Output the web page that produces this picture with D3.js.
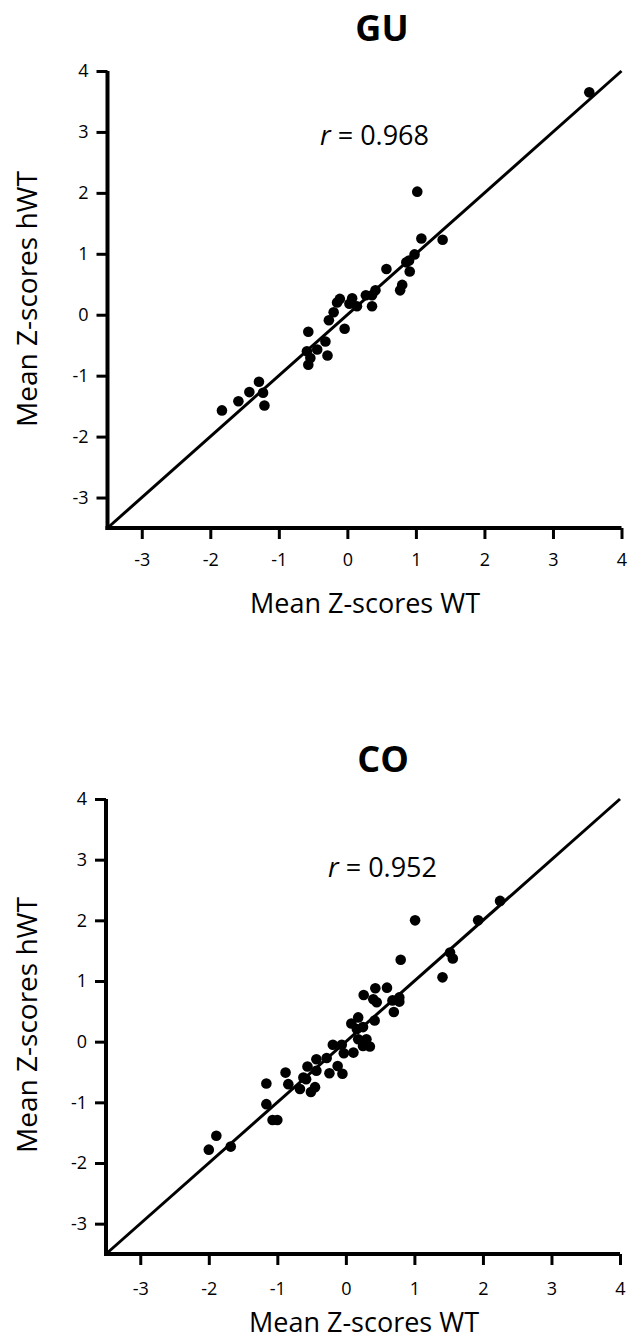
<!DOCTYPE html>
<html>
<head>
<meta charset="utf-8">
<script src="https://cdn.jsdelivr.net/npm/d3@7"></script>
<style>
  body { margin: 0; background: #fff; }
  text { font-family: "Open Sans", sans-serif; fill: #000; }
</style>
</head>
<body>
<div id="chart"></div>
<script>
// GU panel: mean z-scores, WT (x) vs hWT (y)
var guWT  = [3.53, 1.02, 1.08, 1.39, 0.98, 0.90, 0.86, 0.91, 0.57, 0.80, 0.77, 0.41, 0.36, 0.27, 0.36, 0.14, 0.07, 0.03,
             -0.11, -0.15, -0.20, -0.27, -0.04, -0.57, -0.32, -0.44, -0.59, -0.29, -0.54, -0.57, -1.29, -1.43, -1.23, -1.59, -1.21, -1.83];
var guHWT = [3.65, 2.02, 1.25, 1.23, 0.99, 0.89, 0.86, 0.71, 0.75, 0.49, 0.40, 0.40, 0.32, 0.32, 0.14, 0.14, 0.27, 0.18,
             0.26, 0.20, 0.04, -0.09, -0.23, -0.28, -0.44, -0.57, -0.60, -0.67, -0.71, -0.82, -1.10, -1.27, -1.28, -1.42, -1.49, -1.57];

// CO panel
var coWT  = [1.01, 2.25, 1.93, 1.52, 1.56, 1.41, 0.80, 0.60, 0.43, 0.26, 0.40, 0.45, 0.78, 0.68, 0.78, 0.70, 0.42, 0.18,
             0.08, 0.25, 0.16, 0.18, 0.30, 0.35, 0.25, -0.19, -0.06, -0.03, 0.11, -0.28, -0.43, -0.56, -0.43, -0.12,
             -0.05, -0.24, -0.88, -0.62, -0.58, -0.84, -0.67, -0.45, -0.51, -1.16, -1.16, -1.07, -1.00, -1.89, -2.00, -1.68];
var coHWT = [2.00, 2.32, 2.00, 1.47, 1.37, 1.06, 1.35, 0.89, 0.88, 0.77, 0.70, 0.65, 0.73, 0.68, 0.66, 0.49, 0.35, 0.40,
             0.30, 0.24, 0.21, 0.04, 0.04, -0.08, -0.07, -0.05, -0.05, -0.19, -0.18, -0.27, -0.29, -0.41, -0.48, -0.40,
             -0.53, -0.52, -0.51, -0.59, -0.62, -0.70, -0.78, -0.75, -0.83, -0.69, -1.03, -1.29, -1.29, -1.55, -1.78, -1.73];

var tickValues = [-3, -2, -1, 0, 1, 2, 3, 4];
var axisDomain = [-3.5, 4];

var w = 629;
var h = 1341;

var svg = d3.select("#chart")
    .append("svg")
    .attr("width", w)
    .attr("height", h);

function drawPanel(opts) {
    var x = d3.scaleLinear().domain(axisDomain).range([opts.left, opts.right]);
    var y = d3.scaleLinear().domain(axisDomain).range([opts.bottom, opts.top]);
    var g = svg.append("g");

    // title
    g.append("text")
        .attr("x", opts.titleX)
        .attr("y", opts.titleY)
        .attr("text-anchor", "middle")
        .style("font-size", "36px")
        .style("font-weight", "bold")
        .text(opts.title);

    // plain hyphen minus like the original
    var fmt = function (d) { return String(d); };

    var xAxis = g.append("g")
        .attr("transform", "translate(0," + opts.bottom + ")")
        .call(d3.axisBottom(x).tickValues(tickValues).tickSize(11).tickPadding(opts.xPad).tickFormat(fmt));
    var yAxis = g.append("g")
        .attr("transform", "translate(" + opts.left + ",0)")
        .call(d3.axisLeft(y).tickValues(tickValues).tickSize(11).tickPadding(8).tickFormat(fmt));

    [xAxis, yAxis].forEach(function (a) {
        a.select(".domain").attr("stroke", "#000").attr("stroke-width", 4);
        a.selectAll(".tick line").attr("stroke", "#000").attr("stroke-width", 3);
        a.selectAll(".tick text").style("font-size", "18px").attr("fill", "#000");
    });
    // domain lines without the outer end ticks
    xAxis.select(".domain").attr("d", "M" + (opts.left - 2) + ",0H" + opts.right);
    yAxis.select(".domain").attr("d", "M0," + (opts.bottom + 2) + "V" + opts.top);

    // axis labels
    g.append("text")
        .attr("x", opts.xLabelX)
        .attr("y", opts.xLabelY)
        .attr("text-anchor", "middle")
        .style("font-size", "27px")
        .text("Mean Z-scores WT");

    g.append("text")
        .attr("transform", "translate(" + opts.yLabelX + "," + opts.yLabelY + ") rotate(-90)")
        .attr("text-anchor", "middle")
        .style("font-size", "28px")
        .text("Mean Z-scores hWT");

    // fit line
    g.append("line")
        .attr("x1", x(axisDomain[0]))
        .attr("y1", y(axisDomain[0]))
        .attr("x2", x(axisDomain[1]))
        .attr("y2", y(axisDomain[1]))
        .attr("stroke", "#000")
        .attr("stroke-width", 3);

    // points
    g.selectAll(".dot")
        .data(opts.xs.map(function (d, i) { return [d, opts.ys[i]]; }))
        .enter()
        .append("circle")
        .attr("class", "dot")
        .attr("cx", function (d) { return x(d[0]); })
        .attr("cy", function (d) { return y(d[1]); })
        .attr("r", 5.3)
        .attr("fill", "#000");

    // correlation
    var rt = g.append("text")
        .attr("x", opts.rX)
        .attr("y", opts.rY)
        .style("font-size", "27px");
    rt.append("tspan").style("font-style", "italic").text("r");
    rt.append("tspan").text(" = " + opts.r);
}

drawPanel({
    title: "GU", titleX: 382, titleY: 41,
    left: 107.5, right: 621.5, top: 71, bottom: 528,
    xs: guWT, ys: guHWT, r: "0.968", rX: 320, rY: 145,
    xPad: 14, xLabelX: 365, xLabelY: 613, yLabelX: 37, yLabelY: 299
});

drawPanel({
    title: "CO", titleX: 383, titleY: 772,
    left: 106, right: 620, top: 799, bottom: 1254,
    xs: coWT, ys: coHWT, r: "0.952", rX: 328, rY: 877,
    xPad: 17, xLabelX: 364, xLabelY: 1332, yLabelX: 37, yLabelY: 1025
});
</script>
</body>
</html>
